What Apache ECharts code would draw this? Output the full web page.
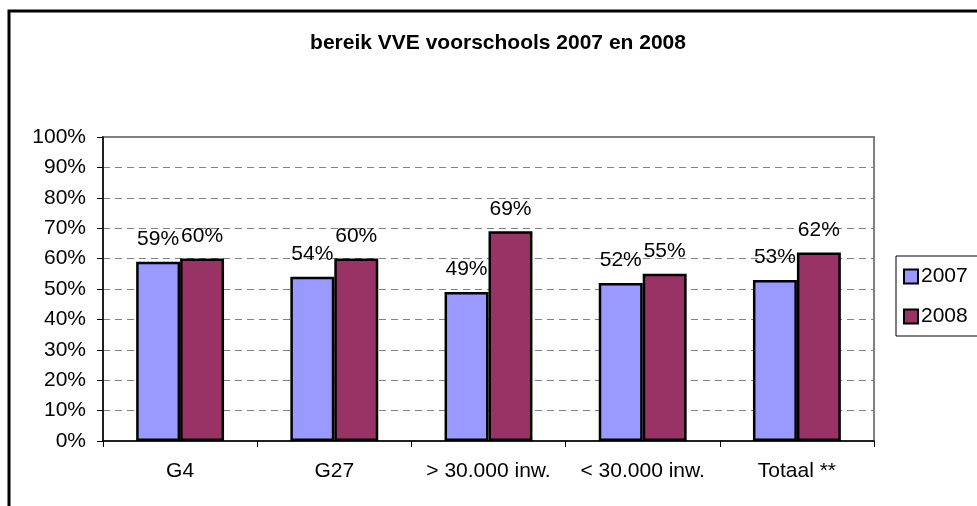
<!DOCTYPE html>
<html>
<head>
<meta charset="utf-8">
<script src="https://cdn.jsdelivr.net/npm/echarts@6/dist/echarts.min.js"></script>
<style>
html,body{margin:0;padding:0;background:#fff;}
#chart{width:977px;height:506px;}
</style>
</head>
<body>
<div id="chart"></div>
<script>
var categories = ['G4', 'G27', '> 30.000 inw.', '< 30.000 inw.', 'Totaal **'];
var values2007 = [59, 54, 49, 52, 53];
var values2008 = [60, 60, 69, 55, 62];
var seriesNames = ['2007', '2008'];
var chartTitle = 'bereik VVE voorschools 2007 en 2008';

var FONT = '"Liberation Sans", Arial, sans-serif';
var chart = echarts.init(document.getElementById('chart'));
var labelCfg = {
  show: true, position: 'top', distance: 12,
  formatter: '{c}%', color: '#000', fontSize: 21, fontFamily: FONT
};
chart.setOption({
  animation: false,
  backgroundColor: '#fff',
  textStyle: { fontFamily: FONT },
  title: {
    text: chartTitle,
    left: 493, top: 28, textAlign: 'center',
    textStyle: { fontSize: 21, fontWeight: 'bold', color: '#000', fontFamily: FONT }
  },
  graphic: [{
    type: 'rect', silent: true, z: 100,
    shape: { x: 9, y: 11, width: 1100, height: 700 },
    style: { fill: 'none', stroke: '#000', lineWidth: 3 }
  }],
  legend: {
    orient: 'vertical', left: 896, top: 256,
    padding: [10, 14, 9, 7],
    borderColor: '#000', borderWidth: 1,
    itemWidth: 14, itemHeight: 14, itemGap: 19,
    icon: 'rect',
    itemStyle: { borderColor: '#000', borderWidth: 2 },
    textStyle: { fontSize: 21, color: '#000', fontFamily: FONT, padding: [0, 0, 0, -2] },
    data: seriesNames
  },
  grid: {
    left: 103, right: 103, top: 137, bottom: 65,
    show: true, borderColor: '#808080', borderWidth: 2, backgroundColor: '#fff'
  },
  xAxis: {
    type: 'category', data: categories,
    axisLine: { lineStyle: { color: '#000', width: 1.5 } },
    axisTick: { show: true, interval: 0, length: 6, lineStyle: { color: '#000' } },
    axisLabel: { interval: 0, color: '#000', fontSize: 21, fontFamily: FONT, margin: 20 }
  },
  yAxis: {
    type: 'value', min: 0, max: 100, interval: 10,
    axisLine: { show: true, lineStyle: { color: '#000', width: 1.5 } },
    axisTick: { show: true, length: 6, lineStyle: { color: '#000' } },
    axisLabel: { color: '#000', fontSize: 21, fontFamily: FONT, margin: 17, formatter: '{value}%' },
    splitLine: { show: true, lineStyle: { color: '#808080', type: [7, 5], width: 1 } }
  },
  series: [{
    name: seriesNames[0], type: 'bar', data: values2007,
    barGap: '0%', barCategoryGap: '43%',
    itemStyle: { color: '#9999FF', borderColor: '#000', borderWidth: 2.5 },
    label: labelCfg
  }, {
    name: seriesNames[1], type: 'bar', data: values2008,
    barGap: '0%', barCategoryGap: '43%',
    itemStyle: { color: '#993366', borderColor: '#000', borderWidth: 2.5 },
    label: labelCfg
  }]
});
</script>
</body>
</html>
